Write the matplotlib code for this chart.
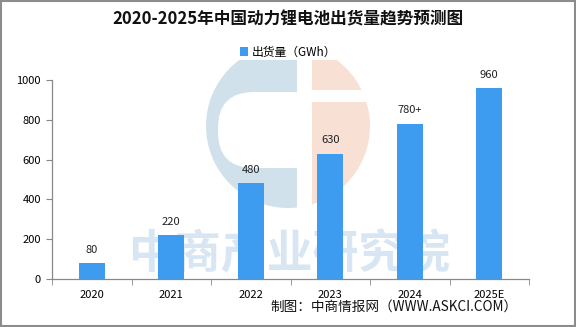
import matplotlib
matplotlib.use("Agg")
import matplotlib.pyplot as plt
from matplotlib.patches import Circle, Rectangle, FancyBboxPatch

plt.rcParams['font.family'] = ['Noto Sans CJK SC', 'DejaVu Sans']

categories = ["2020", "2021", "2022", "2023", "2024", "2025E"]
values = [80, 220, 480, 630, 780, 960]
value_labels = ["80", "220", "480", "630", "780+", "960"]
yticks = [0, 200, 400, 600, 800, 1000]

fig = plt.figure(figsize=(5.76, 3.27), dpi=100)
fig.patch.set_facecolor("white")
fig.add_artist(Rectangle((0.001, 0.002), 0.997, 0.995, transform=fig.transFigure,
                         fill=False, edgecolor="#8c8c8c", linewidth=1.5))

# watermark layer (pixel coordinates)
wax = fig.add_axes([0, 0, 1, 1], zorder=0)
wax.set_xlim(0, 576); wax.set_ylim(327, 0); wax.axis("off")
blue_c = Circle((288, 126), 82, facecolor="#d0e1ec", edgecolor="none")
wax.add_patch(blue_c)
blue_c.set_clip_path(Rectangle((150, 60), 147, 200, transform=wax.transData))
orange_c = Circle((288, 126), 82, facecolor="#f8e0d5", edgecolor="none")
wax.add_patch(orange_c)
orange_c.set_clip_path(Rectangle((312, 60), 100, 200, transform=wax.transData))
hole = FancyBboxPatch((218, 92), 120, 76, boxstyle="round,pad=0,rounding_size=36",
                      facecolor="white", edgecolor="none")
wax.add_patch(hole)
hole.set_clip_path(Rectangle((150, 60), 155, 200, transform=wax.transData))
wax.add_patch(Rectangle((310, 90), 80, 12, facecolor="white", edgecolor="none"))
wax.text(290, 255, "中商产业研究院", fontsize=33, color="#d7e6f2", ha="center", va="center",
         fontweight="bold")

ax = fig.add_axes([52/576, 48/327, 477/576, 199/327])
ax.set_zorder(1)
ax.patch.set_alpha(0)
x = list(range(len(categories)))

bars = ax.bar(x, values, width=0.33, color="#3d9cf0", label="出货量（GWh）", zorder=2)
for xi, v, lab in zip(x, values, value_labels):
    ax.text(xi, v + 42, lab, ha="center", va="bottom", fontsize=8, color="#222222", zorder=3)

ax.set_xlim(-0.5, len(categories) - 0.5)
ax.set_ylim(0, 1000)
ax.set_yticks(yticks)
ax.set_yticklabels([str(t) for t in yticks], fontsize=8)
ax.set_xticks(x)
ax.set_xticklabels(categories, fontsize=8)
ax.set_xticks([i - 0.5 for i in range(len(categories) + 1)], minor=True)
ax.tick_params(axis="x", which="major", length=0, pad=8)
ax.tick_params(axis="x", which="minor", length=4, color="#888888")
ax.tick_params(axis="y", length=4, color="#888888", pad=4)
for s in ["top", "right"]:
    ax.spines[s].set_visible(False)
for s in ["left", "bottom"]:
    ax.spines[s].set_color("#888888")
    ax.spines[s].set_linewidth(0.9)

fig.text(0.5, 1 - 19/327, "2020-2025年中国动力锂电池出货量趋势预测图", ha="center", va="center",
         fontsize=12, fontweight="bold", color="#111111")
fig.legend(handles=[bars], labels=["出货量（GWh）"], loc="center", bbox_to_anchor=(0.5, 1 - 52/327),
           frameon=False, fontsize=8.5, handlelength=0.7, handleheight=0.7, handletextpad=0.3)
fig.text(518/576, 1 - 307/327, "制图：中商情报网（WWW.ASKCI.COM）", ha="right", va="center",
         fontsize=9.8, color="#111111")

fig.savefig("out.png", dpi=100)
